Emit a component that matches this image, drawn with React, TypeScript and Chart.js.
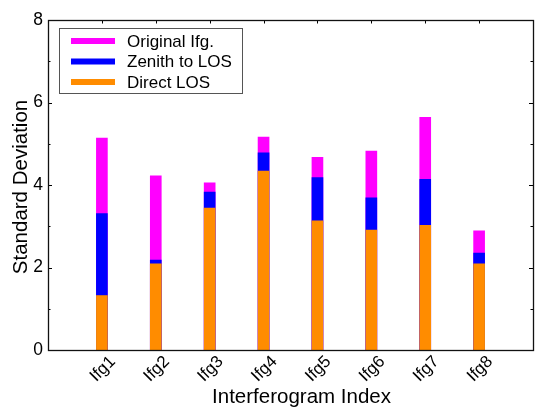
import React, { useEffect, useRef } from "react";
import { Chart, registerables } from "chart.js";

Chart.register(...registerables);

const categories = ["Ifg1", "Ifg2", "Ifg3", "Ifg4", "Ifg5", "Ifg6", "Ifg7", "Ifg8"];
const originalIfg = [5.14, 4.22, 4.05, 5.16, 4.67, 4.82, 5.64, 2.89];
const zenithToLos = [3.31, 2.18, 3.83, 4.78, 4.18, 3.69, 4.14, 2.35];
const directLos = [1.32, 2.09, 3.44, 4.34, 3.13, 2.91, 3.02, 2.09];
const yTicks = [0, 2, 4, 6, 8];
const seriesLabels = ["Original Ifg.", "Zenith to LOS", "Direct LOS"];
const seriesColors = ["#ff00ff", "#0000ff", "#ff8c00"];

const FONT = "'Liberation Sans', Arial, Helvetica, sans-serif";

const decorPlugin = {
  id: "decor",
  afterDatasetsDraw(chart: any) {
    const ctx = chart.ctx as CanvasRenderingContext2D;
    const { left, right, top, bottom } = chart.chartArea;
    const xs = chart.scales.x;
    const ys = chart.scales.y;
    ctx.save();
    // ticks
    ctx.strokeStyle = "#000";
    ctx.lineWidth = 1;
    ctx.beginPath();
    for (const v of yTicks) {
      const py = Math.round(ys.getPixelForValue(v)) + 0.5;
      ctx.moveTo(left, py);
      ctx.lineTo(left + 4, py);
      ctx.moveTo(right, py);
      ctx.lineTo(right - 4, py);
    }
    for (let i = 0; i < yTicks.length - 1; i++) {
      const v = (yTicks[i] + yTicks[i + 1]) / 2;
      const py = Math.round(ys.getPixelForValue(v)) + 0.5;
      ctx.moveTo(left, py);
      ctx.lineTo(left + 2.5, py);
      ctx.moveTo(right, py);
      ctx.lineTo(right - 2.5, py);
    }
    categories.forEach((_, i) => {
      const px = Math.round(xs.getPixelForValue(i + 1)) + 0.5;
      ctx.moveTo(px, top);
      ctx.lineTo(px, top + 3.5);
    });
    ctx.stroke();
    // frame
    ctx.strokeStyle = "#111";
    ctx.lineWidth = 1.3;
    ctx.strokeRect(left + 0.5, top + 0.5, right - left, bottom - top);

    // x tick labels rotated
    ctx.fillStyle = "#000";
    ctx.font = `17px ${FONT}`;
    ctx.textAlign = "center";
    ctx.textBaseline = "middle";
    categories.forEach((c, i) => {
      const px = xs.getPixelForValue(i + 1) + 1;
      ctx.save();
      ctx.translate(px, bottom + 19);
      ctx.rotate(-Math.PI / 4);
      ctx.fillText(c, 0, 0);
      ctx.restore();
    });

    // axis titles
    ctx.font = `20.5px ${FONT}`;
    ctx.textBaseline = "alphabetic";
    ctx.textAlign = "center";
    ctx.fillText("Interferogram Index", (left + right) / 2 + 11, bottom + 53);
    ctx.save();
    ctx.translate(27, (top + bottom) / 2 + 2);
    ctx.rotate(-Math.PI / 2);
    ctx.fillText("Standard Deviation", 0, 0);
    ctx.restore();

    // legend
    const lx = left + 11;
    const ly = top + 8;
    const lw = 183;
    const lh = 65;
    ctx.fillStyle = "#fff";
    ctx.fillRect(lx, ly, lw, lh);
    ctx.strokeStyle = "#555";
    ctx.lineWidth = 1;
    ctx.strokeRect(lx + 0.5, ly + 0.5, lw, lh);
    ctx.font = `17px ${FONT}`;
    ctx.textAlign = "left";
    ctx.textBaseline = "middle";
    seriesLabels.forEach((lab, i) => {
      const ry = ly + 13 + i * 20.5;
      ctx.strokeStyle = seriesColors[i];
      ctx.lineWidth = 6;
      ctx.beginPath();
      ctx.moveTo(lx + 12, ry);
      ctx.lineTo(lx + 56, ry);
      ctx.stroke();
      ctx.fillStyle = "#000";
      ctx.fillText(lab, lx + 68, ry + 1);
    });
    ctx.restore();
  },
};

export default function App() {
  const ref = useRef<HTMLCanvasElement | null>(null);
  useEffect(() => {
    document.body.style.margin = "0";
    const canvas = ref.current;
    if (!canvas) return;
    const series = [originalIfg, zenithToLos, directLos];
    const chart = new Chart(canvas, {
      type: "bar",
      data: {
        datasets: series.map((vals, s) => ({
          label: seriesLabels[s],
          data: categories.map((_, i) => ({ x: i + 1, y: vals[i] })),
          backgroundColor: seriesColors[s],
          borderWidth: 0,
          barThickness: 11,
          grouped: false,
          order: 3 - s,
        })),
      },
      options: {
        responsive: false,
        animation: false,
        devicePixelRatio: 1,
        layout: { padding: { left: 0, right: 17, top: 20, bottom: 0 } },
        plugins: {
          legend: { display: false },
          tooltip: { enabled: false },
        },
        scales: {
          x: {
            type: "linear",
            offset: false,
            min: 0,
            max: categories.length + 1,
            grid: { display: false, offset: false },
            border: { display: false },
            ticks: { display: false },
            afterFit: (scale: any) => {
              scale.height = 67;
            },
          },
          y: {
            min: 0,
            max: 8,
            grid: { display: false, drawTicks: false },
            border: { display: false },
            ticks: {
              stepSize: 2,
              padding: 5,
              color: "#000",
              font: { size: 17.5, family: FONT },
            },
            afterFit: (scale: any) => {
              scale.width = 48;
            },
          },
        },
      } as any,
      plugins: [decorPlugin],
    });
    return () => chart.destroy();
  }, []);
  return (
    <div style={{ width: 550, height: 417 }}>
      <canvas ref={ref} width={550} height={417} style={{ width: 550, height: 417, display: "block" }} />
    </div>
  );
}
